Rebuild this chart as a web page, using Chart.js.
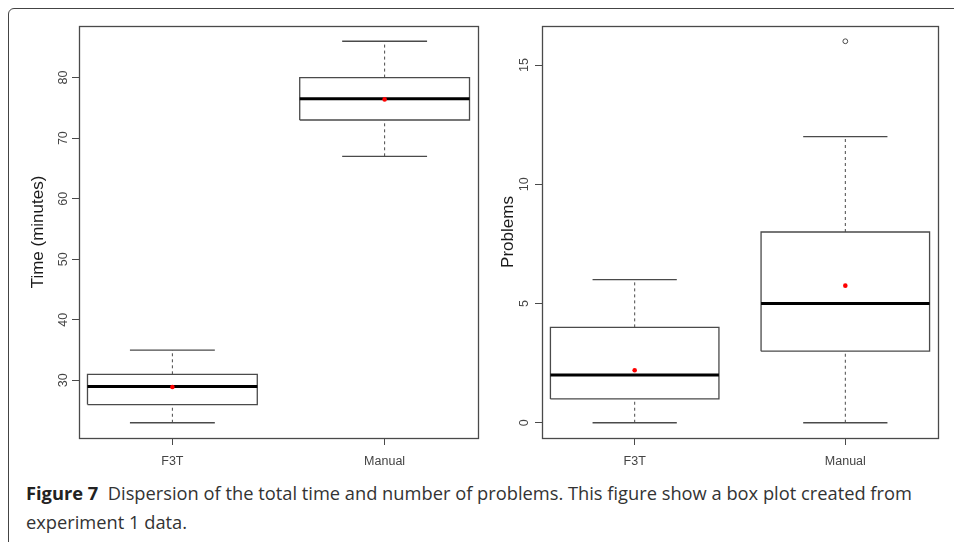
<!DOCTYPE html>
<html>
<head>
<meta charset="utf-8">
<script src="https://cdn.jsdelivr.net/npm/chart.js@4.4.1/dist/chart.umd.min.js"></script>
<style>
  html, body { margin: 0; padding: 0; background: #fff; }
  body { width: 954px; height: 542px; position: relative; overflow: hidden; }
  .frame {
    position: absolute; left: 8px; top: 8px; width: 980px; height: 580px;
    border: 1px solid #444; border-top-left-radius: 6px; box-sizing: border-box;
  }
  #timeWrap { position: absolute; left: 0; top: 0; width: 490px; height: 475px; }
  #probWrap { position: absolute; left: 480px; top: 0; width: 474px; height: 475px; }
  .caption {
    position: absolute; left: 26px; top: 478px; white-space: nowrap;
    font-family: "Open Sans", "Noto Sans", sans-serif; font-size: 18.3px; line-height: 29px; color: #333;
  }
  .caption b { color: #222; }
</style>
</head>
<body>
<div class="frame"></div>
<div id="timeWrap"><canvas id="timeChart" width="490" height="475"></canvas></div>
<div id="probWrap"><canvas id="probChart" width="474" height="475"></canvas></div>
<div class="caption"><b>Figure 7</b>&nbsp; Dispersion of the total time and number of problems. This figure show a box plot created from<br>experiment 1 data.</div>
<script>
// gruplar
const groups = ['F3T', 'Manual'];

// Sol grafik - süre (dakika)
const timeMin = [23, 67];
const timeQ1 = [26, 73];
const timeMedian = [29, 76.5];
const timeQ3 = [31, 80];
const timeMax = [35, 86];
const timeMean = [28.9, 76.4];
const timeOutliers = [[], []];
const timeTicks = [30, 40, 50, 60, 70, 80];

// Sağ grafik - problem sayısı
const probMin = [0, 0];
const probQ1 = [1, 3];
const probMedian = [2, 5];
const probQ3 = [4, 8];
const probMax = [6, 12];
const probMean = [2.2, 5.75];
const probOutliers = [[], [16]];
const probTicks = [0, 5, 10, 15];

const LINE = '#4a4a4a';
const TEXT = '#444';
const BOX_HALF = 0.4;
const CAP_HALF = 0.2;

function seg(points, extra) {
    return Object.assign({
        type: 'scatter',
        showLine: true,
        order: 2,
        data: points.map(p => ({ x: p[0], y: p[1] })),
        borderColor: LINE,
        borderWidth: 1.3,
        pointRadius: 0,
        pointHoverRadius: 0,
        borderJoinStyle: 'miter'
    }, extra || {});
}

function boxDatasets(mins, q1s, meds, q3s, maxs, means, outliers) {
    const sets = [];
    groups.forEach((g, i) => {
        const x = i + 1;
        // bıyıklar
        sets.push(seg([[x, q3s[i]], [x, maxs[i]]], { borderDash: [3, 3], borderWidth: 1 }));
        sets.push(seg([[x, mins[i]], [x, q1s[i]]], { borderDash: [3, 3], borderWidth: 1 }));
        sets.push(seg([[x - CAP_HALF, maxs[i]], [x + CAP_HALF, maxs[i]]]));
        sets.push(seg([[x - CAP_HALF, mins[i]], [x + CAP_HALF, mins[i]]]));
        // kutu
        sets.push(seg([[x - BOX_HALF, q1s[i]], [x + BOX_HALF, q1s[i]], [x + BOX_HALF, q3s[i]],
                       [x - BOX_HALF, q3s[i]], [x - BOX_HALF, q1s[i]]]));
        // medyan
        sets.push(seg([[x - BOX_HALF, meds[i]], [x + BOX_HALF, meds[i]]], { borderColor: '#000', borderWidth: 3, order: 1 }));
        // ortalama
        sets.push({
            type: 'scatter',
            order: 0,
            data: [{ x: x, y: means[i] }],
            pointRadius: 2.3, pointBackgroundColor: '#ff0000', pointBorderWidth: 0, pointStyle: 'circle'
        });
        // aykırı değerler
        if (outliers[i].length) {
            sets.push({
                type: 'scatter',
                order: 0,
                data: outliers[i].map(v => ({ x: x, y: v })),
                pointRadius: 2.4, pointBackgroundColor: '#fff', pointBorderColor: LINE, pointBorderWidth: 1
            });
        }
    });
    return sets;
}

const frameBox = {
    id: 'frameBox',
    afterDraw(chart) {
        const a = chart.chartArea, c = chart.ctx;
        c.save();
        c.strokeStyle = LINE;
        c.lineWidth = 1.3;
        c.strokeRect(Math.round(a.left) + 0.5, Math.round(a.top) + 0.5,
                     Math.round(a.right - a.left), Math.round(a.bottom - a.top));
        c.restore();
    }
};

function makeChart(id, cfg) {
    const tickFont = { family: '"Liberation Sans", Arial, sans-serif', size: 12.5 };
    return new Chart(document.getElementById(id).getContext('2d'), {
        type: 'scatter',
        data: { datasets: boxDatasets(cfg.mins, cfg.q1s, cfg.meds, cfg.q3s, cfg.maxs, cfg.means, cfg.outliers) },
        options: {
            responsive: false,
            animation: false,
            events: [],
            layout: { padding: { top: 26, right: cfg.padRight, left: 0, bottom: 0 } },
            plugins: { legend: { display: false }, tooltip: { enabled: false } },
            scales: {
                x: {
                    type: 'linear',
                    min: 0.56, max: 2.44,
                    afterBuildTicks: s => { s.ticks = groups.map((g, i) => ({ value: i + 1 })); },
                    afterFit: s => { s.height = 37; },
                    ticks: {
                        callback: (v, i) => groups[i],
                        color: TEXT, font: tickFont, padding: 9, maxRotation: 0, autoSkip: false
                    },
                    grid: { drawOnChartArea: false, drawTicks: true, tickLength: 7, color: LINE },
                    border: { display: false }
                },
                y: {
                    type: 'linear',
                    min: cfg.yMin, max: cfg.yMax,
                    afterBuildTicks: s => { s.ticks = cfg.ticks.map(v => ({ value: v })); },
                    afterFit: s => { s.width = cfg.axisWidth; },
                    ticks: {
                        minRotation: 90, maxRotation: 90, crossAlign: 'center',
                        padding: cfg.tickPad, color: TEXT, font: tickFont, autoSkip: false
                    },
                    grid: { drawOnChartArea: false, drawTicks: true, tickLength: 7, color: LINE },
                    border: { display: false },
                    title: {
                        display: true, text: cfg.title, color: '#1a1a1a',
                        font: { family: '"Liberation Sans", Arial, sans-serif', size: 17 },
                        padding: { top: cfg.titlePad, bottom: 0 }
                    }
                }
            }
        },
        plugins: [frameBox]
    });
}

makeChart('timeChart', {
    mins: timeMin, q1s: timeQ1, meds: timeMedian, q3s: timeQ3, maxs: timeMax,
    means: timeMean, outliers: timeOutliers, ticks: timeTicks,
    yMin: 20.48, yMax: 88.52, title: 'Time (minutes)',
    axisWidth: 79, padRight: 12, tickPad: 2, titlePad: 28
});

makeChart('probChart', {
    mins: probMin, q1s: probQ1, meds: probMedian, q3s: probQ3, maxs: probMax,
    means: probMean, outliers: probOutliers, ticks: probTicks,
    yMin: -0.64, yMax: 16.64, title: 'Problems',
    axisWidth: 62, padRight: 16, tickPad: 4, titlePad: 18
});
</script>
</body>
</html>
